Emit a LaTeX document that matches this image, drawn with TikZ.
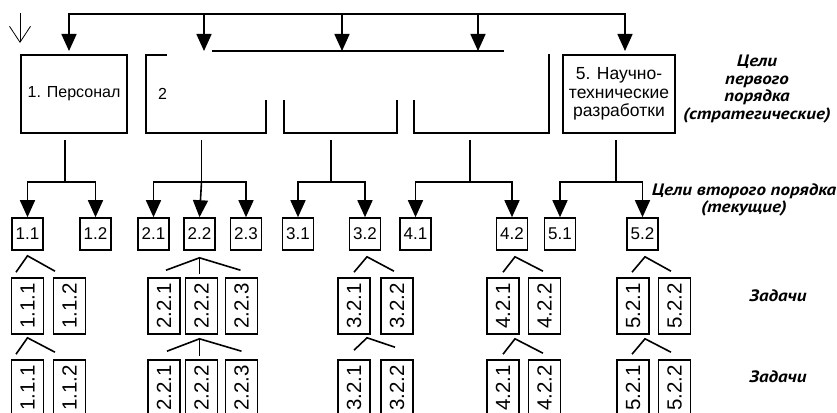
\documentclass[tikz,border=0pt]{standalone}
\usepackage{fontspec}
\usepackage{graphicx}
\setmainfont{Liberation Sans}
\newfontfamily\ptsans[FakeStretch=1.15]{PT Sans}
\usetikzlibrary{positioning,arrows.meta}

\begin{document}
\begin{tikzpicture}[x=1pt,y=-1pt,line width=1.6pt,
  goal/.style={rectangle,draw,line width=2pt,minimum width=#1,minimum height=78pt,
    inner sep=0pt,align=center,font=\fontsize{16}{18.5}\selectfont},
  sub/.style={rectangle,draw,minimum width=31pt,minimum height=32pt,inner sep=0pt,
    font=\fontsize{17}{20}\selectfont},
  task/.style={rectangle,draw,minimum width=32pt,minimum height=56pt,inner sep=0pt,
    font=\fontsize{20.5}{24}\selectfont},
  arr/.style={-{Triangle[width=15pt,length=17pt]}},
  note/.style={align=center,font=\ptsans\bfseries\itshape\fontsize{16.5}{17.5}\selectfont}]
  \useasboundingbox (0,0) rectangle (837,412);

  % first order goals
  \node[goal=106pt] (b1) at (74,94) {1. Персонал};
  \node[goal=120pt,right=17pt of b1,text width=96pt,align=left] (b2) {2};
  \node[goal=113pt,right=16pt of b2] (b3) {};
  \node[goal=135pt,right=15pt of b3] (b4) {};
  \node[goal=112pt,right=12pt of b4,font=\fontsize{17.5}{18.5}\selectfont] (b5) {5. Научно-\\технические\\разработки};

  % second order goals
  \node[sub] (g11) at (27.5,234) {1.1};
  \node[sub] (g12) at (95.5,234) {1.2};
  \node[sub] (g21) at (153.5,234) {2.1};
  \node[sub] (g22) at (199.5,234) {2.2};
  \node[sub] (g23) at (246,234) {2.3};
  \node[sub] (g31) at (298,234) {3.1};
  \node[sub] (g32) at (365,234) {3.2};
  \node[sub] (g41) at (415.5,234) {4.1};
  \node[sub] (g42) at (512,234) {4.2};
  \node[sub] (g51) at (560,234) {5.1};
  \node[sub] (g52) at (642.5,234) {5.2};

  % tasks
  \node[task] (t111) at (27.5,306) {\rotatebox{90}{1.1.1}};
  \node[task] (t112) at (69.5,306) {\rotatebox{90}{1.1.2}};
  \node[task] (t221) at (164,306) {\rotatebox{90}{2.2.1}};
  \node[task] (t222) at (201.5,306) {\rotatebox{90}{2.2.2}};
  \node[task] (t223) at (241.5,306) {\rotatebox{90}{2.2.3}};
  \node[task] (t321) at (354,306) {\rotatebox{90}{3.2.1}};
  \node[task] (t322) at (397,306) {\rotatebox{90}{3.2.2}};
  \node[task] (t421) at (503,306) {\rotatebox{90}{4.2.1}};
  \node[task] (t422) at (544.5,306) {\rotatebox{90}{4.2.2}};
  \node[task] (t521) at (633,306) {\rotatebox{90}{5.2.1}};
  \node[task] (t522) at (674.5,306) {\rotatebox{90}{5.2.2}};

  \node[task] (s111) at (27.5,388) {\rotatebox{90}{1.1.1}};
  \node[task] (s112) at (69.5,388) {\rotatebox{90}{1.1.2}};
  \node[task] (s221) at (164,388) {\rotatebox{90}{2.2.1}};
  \node[task] (s222) at (201.5,388) {\rotatebox{90}{2.2.2}};
  \node[task] (s223) at (241.5,388) {\rotatebox{90}{2.2.3}};
  \node[task] (s321) at (354,388) {\rotatebox{90}{3.2.1}};
  \node[task] (s322) at (397,388) {\rotatebox{90}{3.2.2}};
  \node[task] (s421) at (503,388) {\rotatebox{90}{4.2.1}};
  \node[task] (s422) at (544.5,388) {\rotatebox{90}{4.2.2}};
  \node[task] (s521) at (633,388) {\rotatebox{90}{5.2.1}};
  \node[task] (s522) at (674.5,388) {\rotatebox{90}{5.2.2}};

  % labels on the right
  \node[note] (first) at (757,89) {Цели\\первого\\порядка\\(стратегические)};
  \node[note] (second) at (744,200) {Цели второго порядка\\(текущие)};
  \node[note] (tasks1) at (778,296) {Задачи};
  \node[note] (tasks2) at (778,377) {Задачи};

  % top arrows
  \draw[-{Straight Barb[length=16pt,width=21pt]},line width=0.8pt]
    ([yshift=41pt]b1.north west) -- ([yshift=11pt]b1.north west);
  \draw[arr] ([yshift=40pt]b3.north) -| ([xshift=-5pt,yshift=3pt]b1.north);
  \draw[arr] ([yshift=40pt]b3.north) -| ([xshift=6pt,yshift=3pt]b5.north);
  \draw[arr] ([xshift=-2pt,yshift=40pt]b2.north) -- ([xshift=-2pt,yshift=3pt]b2.north);
  \draw[arr] ([xshift=1.5pt,yshift=40pt]b3.north) -- ([xshift=1.5pt,yshift=3pt]b3.north);
  \draw[arr] ([xshift=-3.5pt,yshift=40pt]b4.north) -- ([xshift=-3.5pt,yshift=3pt]b4.north);

  % hidden part
  \fill[white] ([xshift=22pt,yshift=2pt]b2.north west) rectangle ([xshift=-2pt,yshift=-46pt]b4.north east);
  \draw[line width=1.1pt] ([xshift=6pt,yshift=3pt]b2.north) -- ([xshift=22.5pt,yshift=3pt]b4.north);

  % first to second order
  \draw ([xshift=-9pt,yshift=-6pt]b1.south) -- ([xshift=-9pt,yshift=-48pt]b1.south) coordinate (j1);
  \draw[arr] (j1) -| (g11.north);
  \draw[arr] (j1) -| (g12.north);
  \draw ([xshift=-4.5pt,yshift=-6pt]b2.south) -- ([xshift=-4.5pt,yshift=-48pt]b2.south) coordinate (j2);
  \draw[arr] (j2) -| (g21.north);
  \draw[arr] (j2) -- (g22.north);
  \draw[arr] (j2) -| (g23.north);
  \draw ([xshift=-9.5pt,yshift=-6pt]b3.south) -- ([xshift=-9.5pt,yshift=-48pt]b3.south) coordinate (j3);
  \draw[arr] (j3) -| (g31.north);
  \draw[arr] (j3) -| (g32.north);
  \draw ([xshift=-11.5pt,yshift=-6pt]b4.south) -- ([xshift=-11.5pt,yshift=-48pt]b4.south) coordinate (j4);
  \draw[arr] (j4) -| (g41.north);
  \draw[arr] (j4) -| (g42.north);
  \draw ([xshift=-3pt,yshift=-6pt]b5.south) -- ([xshift=-3pt,yshift=-48pt]b5.south) coordinate (j5);
  \draw[arr] (j5) -| (g51.north);
  \draw[arr] (j5) -| (g52.north);

  % second order to tasks
  \draw ([xshift=-11.5pt,yshift=5pt]t111.north) -- ([yshift=-5pt]g11.south) -- ([xshift=-14.5pt,yshift=6pt]t112.north);
  \draw ([xshift=2pt,yshift=7pt]t221.north) -- ([yshift=-7pt]g22.south) -- ([xshift=-1pt,yshift=7pt]t223.north);
  \draw ([yshift=-7pt]g22.south) -- ([xshift=-2pt,yshift=3pt]t222.north);
  \draw ([yshift=5pt]t321.north) -- ([xshift=2pt,yshift=-6pt]g32.south) -- ([xshift=-3pt,yshift=6pt]t322.north);
  \draw ([yshift=5pt]t421.north) -- ([xshift=3pt,yshift=-6pt]g42.south) -- ([xshift=-1.5pt,yshift=6pt]t422.north);
  \draw ([xshift=-1pt,yshift=5pt]t521.north) -- ([xshift=2.5pt,yshift=-6pt]g52.south) -- ([xshift=-3.5pt,yshift=6pt]t522.north);

  % tasks to tasks
  \draw ([xshift=-11.5pt,yshift=5pt]s111.north) -- ([yshift=-3pt]t111.south) -- ([xshift=-14.5pt,yshift=7pt]s112.north);
  \draw ([xshift=3pt,yshift=8pt]s221.north) -- ([xshift=-2pt,yshift=-4pt]t222.south) -- ([yshift=8pt]s223.north);
  \draw ([xshift=-2pt,yshift=-4pt]t222.south) -- ([xshift=-2pt,yshift=3pt]s222.north);
  \draw ([yshift=9pt]s321.north) -- ([xshift=13pt,yshift=-3pt]t321.south) -- ([xshift=-2pt,yshift=12pt]s322.north);
  \draw ([yshift=5pt]s421.north) -- ([xshift=12pt,yshift=-4pt]t421.south) -- ([xshift=-1.5pt,yshift=6pt]s422.north);
  \draw ([xshift=-1pt,yshift=5pt]s521.north) -- ([xshift=12pt,yshift=-4pt]t521.south) -- ([xshift=-3.5pt,yshift=7pt]s522.north);
\end{tikzpicture}
\end{document}
